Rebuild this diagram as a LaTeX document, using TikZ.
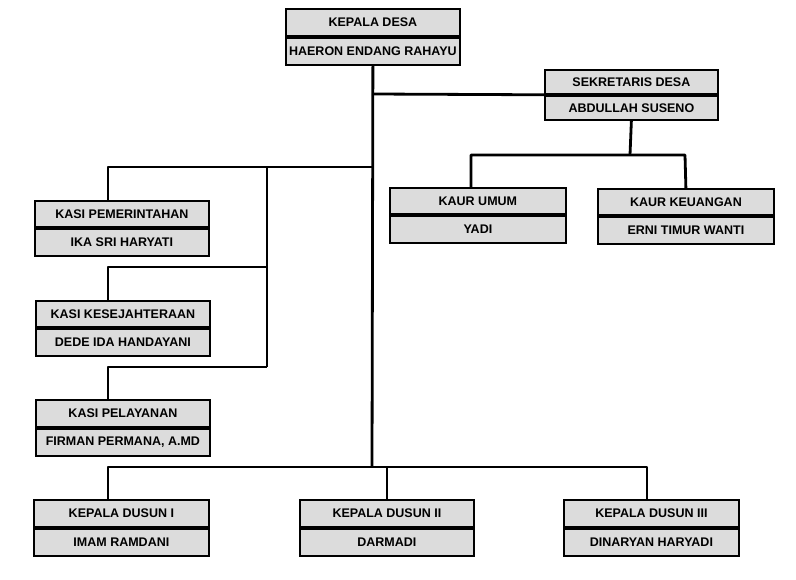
\documentclass[tikz,border=0pt]{standalone}
\usepackage{fontspec}
\setmainfont{Liberation Sans}
\definecolor{boxgray}{RGB}{220,220,220}
\begin{document}
\begin{tikzpicture}[x=1pt,y=-1pt,
  orgcell/.style={draw=black, fill=boxgray, line width=1.8pt, inner sep=0pt,
    font=\fontsize{12.5}{13}\selectfont\bfseries},
  link/.style={draw=black, line width=2.8pt, line join=round}]
\useasboundingbox (0,0) rectangle (796,580);
\newcommand{\orgbox}[7]{%
  \node[orgcell, minimum width=#4pt, minimum height=#5pt, anchor=north west] (#1a) at (#2,#3) {#6};
  \node[orgcell, minimum width=#4pt, minimum height=#5pt, anchor=north] (#1b) at (#1a.south) {#7};}
% boxes
\orgbox{kd}{285}{8}{174}{27}{KEPALA DESA}{HAERON ENDANG RAHAYU}
\orgbox{sk}{544}{69}{173}{24}{SEKRETARIS DESA}{ABDULLAH SUSENO}
\orgbox{ku}{389}{187}{176}{26.5}{KAUR UMUM}{YADI}
\orgbox{kk}{597}{188}{176}{26.5}{KAUR KEUANGAN}{ERNI TIMUR WANTI}
\orgbox{kp}{34}{200}{174}{26.5}{KASI PEMERINTAHAN}{IKA SRI HARYATI}
\orgbox{ks}{35}{300}{174}{26.5}{KASI KESEJAHTERAAN}{DEDE IDA HANDAYANI}
\orgbox{kl}{35}{399}{174}{27}{KASI PELAYANAN}{FIRMAN PERMANA, A.MD}
\orgbox{da}{33}{499}{175}{27}{KEPALA DUSUN I}{IMAM RAMDANI}
\orgbox{db}{299}{499}{174}{27}{KEPALA DUSUN II}{DARMADI}
\orgbox{dc}{563}{499}{175}{27}{KEPALA DUSUN III}{DINARYAN HARYADI}
% junctions
\coordinate (tsek) at (372,94);
\coordinate (tleft) at (372,167);
\coordinate (tbot) at (372,467);
\coordinate (lpem) at (108,167);
\coordinate (lmid) at (267,167);
\coordinate (lkes) at (267,267);
\coordinate (lpel) at (267,367);
\coordinate (skj) at (630,155);
\coordinate (kuj) at (471,155);
\coordinate (kkj) at (685,155);
\coordinate (bda) at (108,467);
\coordinate (bdc) at (647,467);
\coordinate (bdb) at (387,467);
% connectors
\draw[link] (kdb.south) -- (tbot);
\draw[link] (tsek) -- (ska.south west);
\draw[link] (skb.south) -- (skj);
\draw[link] (kuj |- kua.north) -- (kuj) -- (kkj) -- (kka.north);
\draw[link] (tleft) -- (lpem) -- (lpem |- kpa.north);
\draw[link] (lmid) -- (lpel);
\draw[link] (lkes) -- (lkes -| lpem) -- (lpem |- ksa.north);
\draw[link] (lpel) -- (lpel -| lpem) -- (lpem |- kla.north);
\draw[link] (bda |- daa.north) -- (bda) -- (bdc) -- (bdc |- dca.north);
\draw[link] (bdb |- dba.north) -- (bdb);
\end{tikzpicture}
\end{document}
